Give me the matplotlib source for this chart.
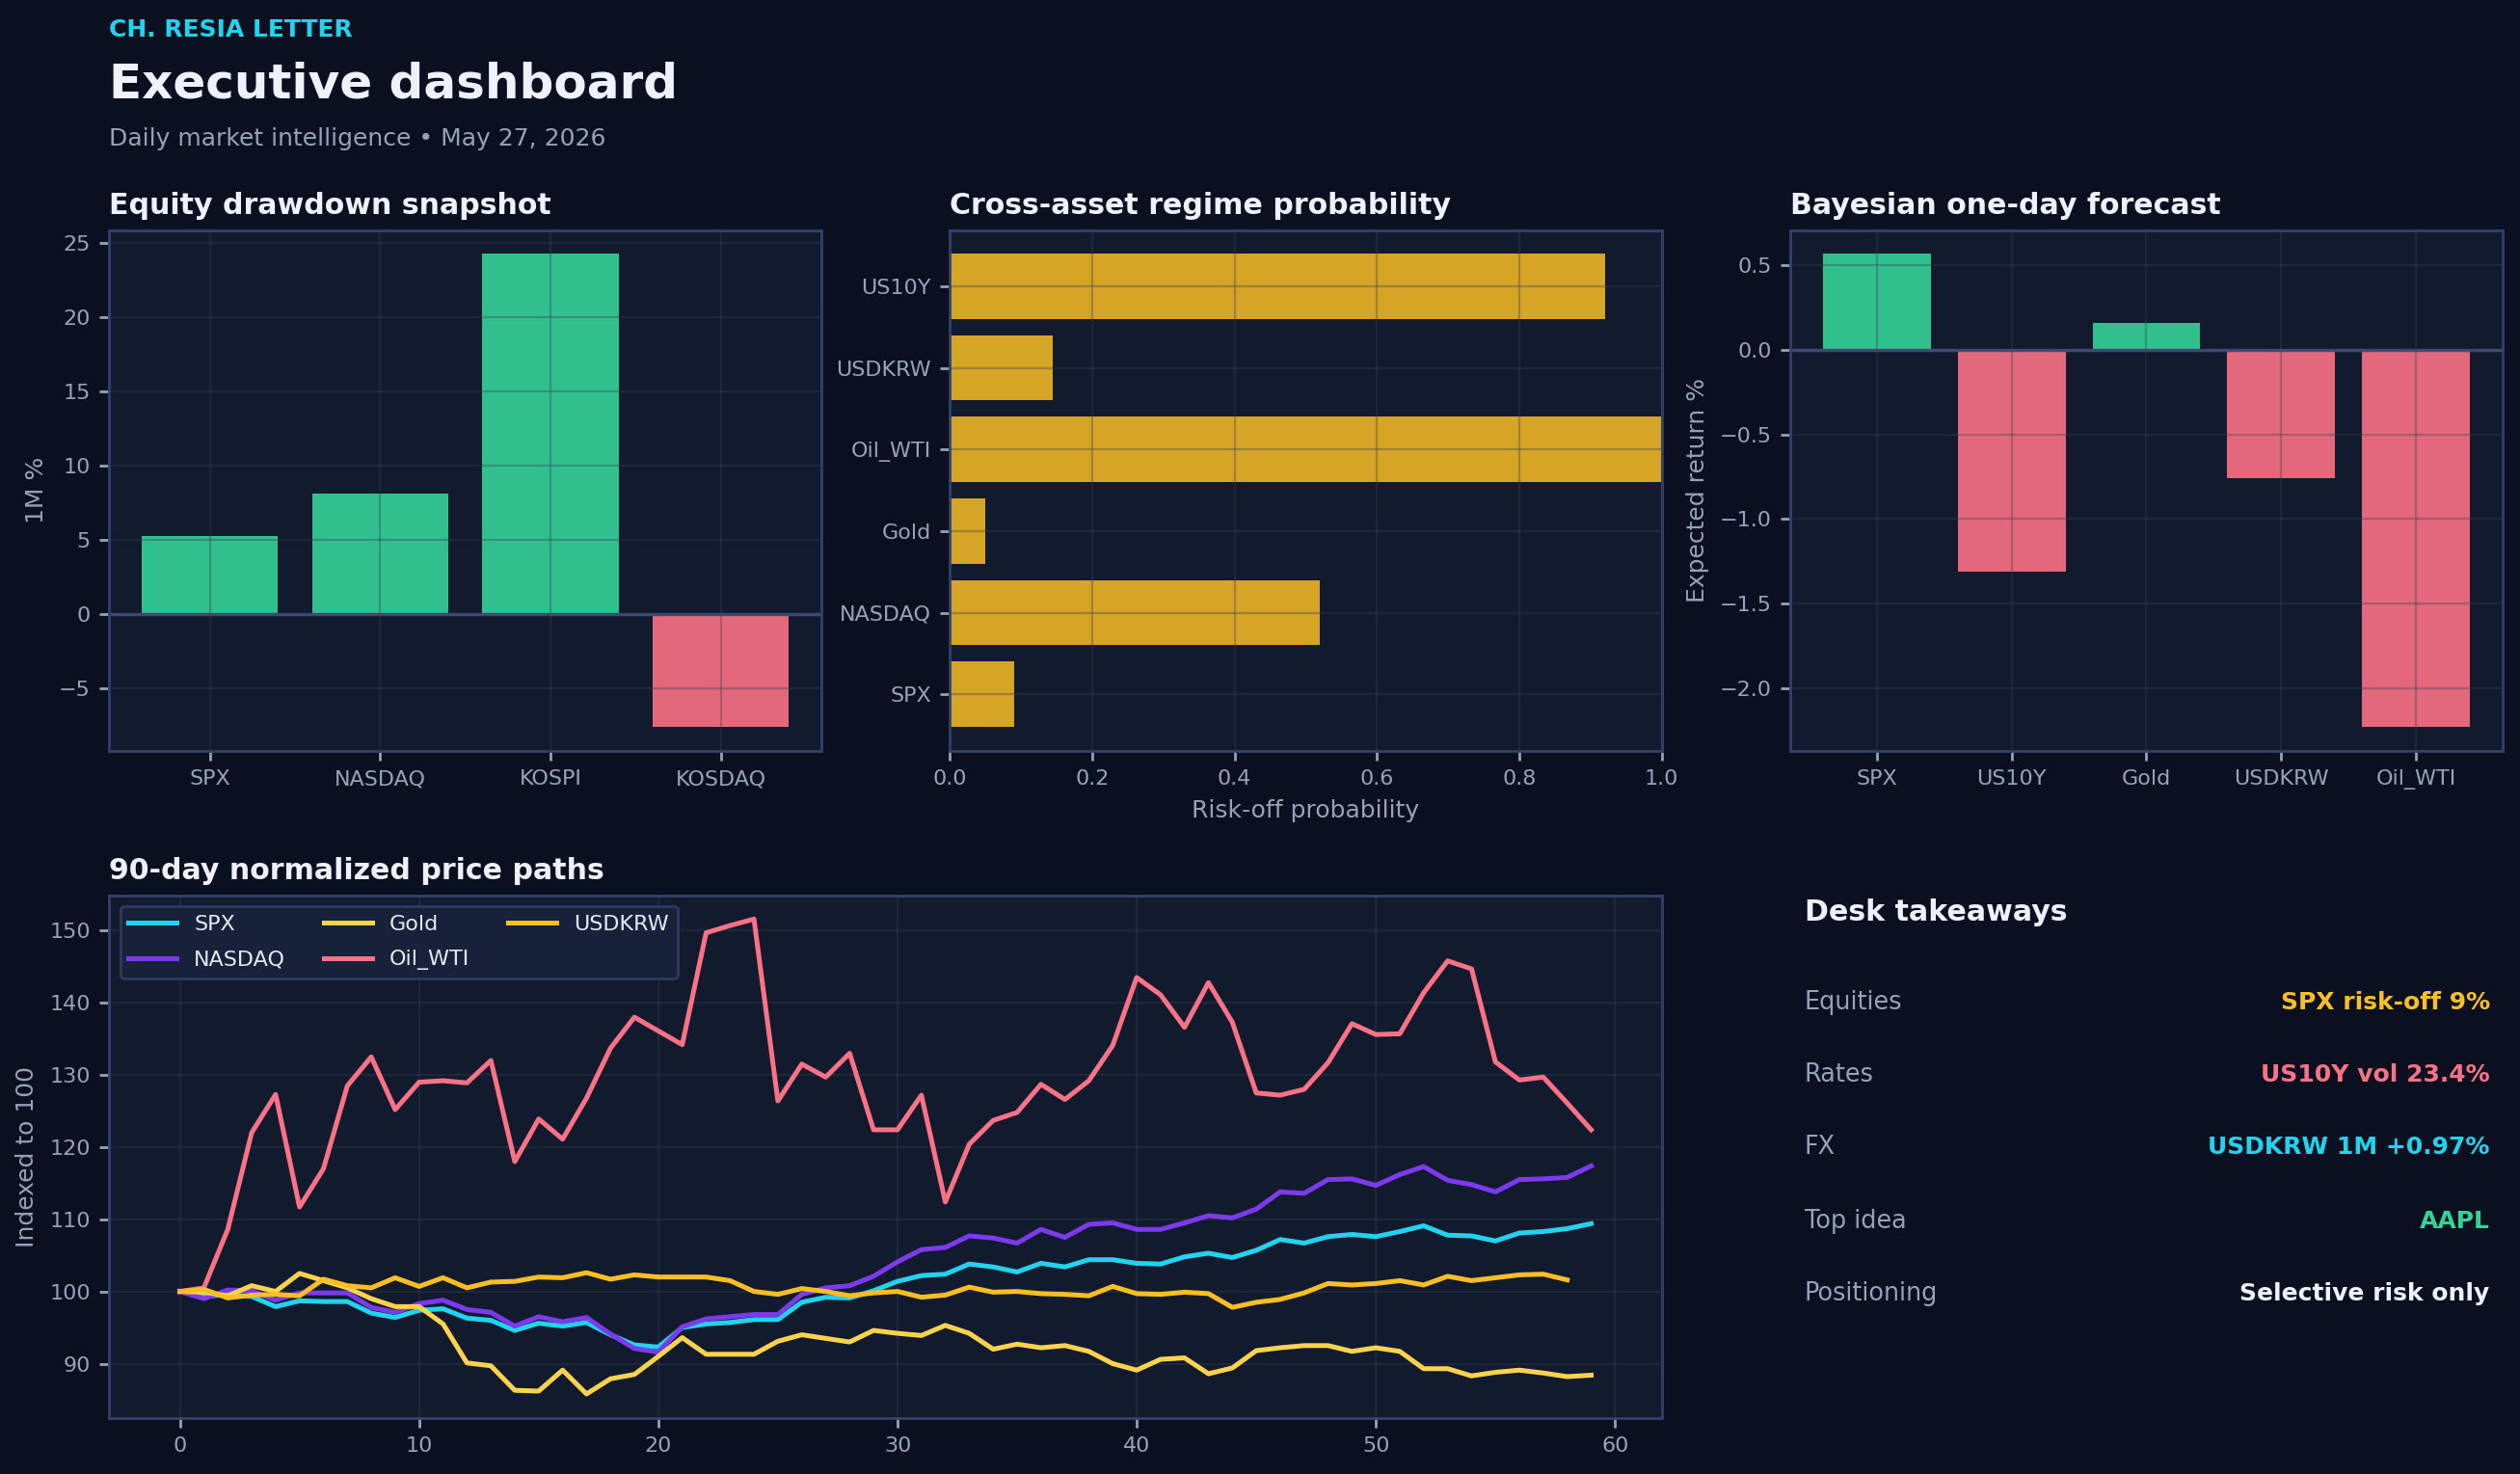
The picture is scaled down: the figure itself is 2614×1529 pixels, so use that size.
import matplotlib
matplotlib.use("Agg")
import matplotlib.pyplot as plt
import numpy as np

# ---------------- data ----------------
eq_names = ["SPX", "NASDAQ", "KOSPI", "KOSDAQ"]
eq_values = [5.3, 8.1, 24.3, -7.6]

regime_names = ["SPX", "NASDAQ", "Gold", "Oil_WTI", "USDKRW", "US10Y"]
regime_probs = [0.09, 0.52, 0.05, 1.0, 0.145, 0.92]

fc_names = ["SPX", "US10Y", "Gold", "USDKRW", "Oil_WTI"]
fc_values = [0.57, -1.31, 0.16, -0.76, -2.23]

spx = [100, 99.3, 99.6, 99.3, 97.9, 98.7, 98.6, 98.6, 97.0, 96.4,
       97.4, 97.6, 96.3, 96.0, 94.6, 95.6, 95.2, 95.7, 94.0, 92.6,
       92.3, 95.0, 95.5, 95.7, 96.1, 96.1, 98.5, 99.2, 99.1, 100.1,
       101.4, 102.2, 102.4, 103.8, 103.4, 102.7, 103.9, 103.4, 104.4, 104.4,
       103.9, 103.8, 104.8, 105.3, 104.7, 105.7, 107.2, 106.7, 107.6, 107.9,
       107.6, 108.3, 109.1, 107.8, 107.7, 107.0, 108.1, 108.3, 108.7, 109.4]
nasdaq = [100, 99.0, 100.2, 100.1, 98.8, 99.8, 99.8, 99.8, 97.8, 97.1,
          98.3, 98.8, 97.5, 97.1, 95.2, 96.5, 95.8, 96.4, 94.1, 92.1,
          91.6, 95.1, 96.2, 96.5, 96.8, 96.8, 99.6, 100.5, 100.8, 102.1,
          104.1, 105.8, 106.1, 107.7, 107.4, 106.7, 108.6, 107.5, 109.3, 109.5,
          108.6, 108.6, 109.5, 110.5, 110.2, 111.4, 113.8, 113.6, 115.5, 115.6,
          114.7, 116.2, 117.3, 115.4, 114.8, 113.8, 115.5, 115.6, 115.8, 117.4]
gold = [100, 99.9, 99.4, 100.8, 100.0, 102.5, 101.5, 100.5, 99.0, 97.9,
        97.9, 95.5, 90.1, 89.7, 86.3, 86.2, 89.1, 85.8, 87.9, 88.5,
        91.0, 93.6, 91.3, 91.3, 91.3, 93.1, 94.0, 93.5, 93.0, 94.6,
        94.2, 93.9, 95.3, 94.2, 92.0, 92.7, 92.2, 92.5, 91.7, 90.0,
        89.1, 90.6, 90.8, 88.6, 89.4, 91.8, 92.2, 92.5, 92.5, 91.7,
        92.2, 91.7, 89.3, 89.3, 88.3, 88.8, 89.1, 88.7, 88.2, 88.4]
oil = [100, 100.5, 108.6, 122.0, 127.3, 111.7, 117.0, 128.5, 132.5, 125.2,
       129.0, 129.2, 128.9, 132.0, 118.0, 123.9, 121.1, 126.8, 133.7, 138.0,
       136.1, 134.2, 149.7, 150.7, 151.6, 126.4, 131.5, 129.7, 133.0, 122.4,
       122.4, 127.2, 112.4, 120.4, 123.7, 124.8, 128.7, 126.6, 129.2, 134.1,
       143.5, 141.1, 136.6, 142.8, 137.3, 127.5, 127.2, 128.0, 131.7, 137.1,
       135.6, 135.7, 141.4, 145.8, 144.7, 131.8, 129.3, 129.7, 126.1, 122.4]
usdkrw = [100, 100.3, 99.1, 99.5, 99.6, 99.4, 101.7, 100.8, 100.5, 101.9,
          100.7, 101.9, 100.5, 101.3, 101.4, 102.0, 101.9, 102.6, 101.7, 102.3,
          102.0, 102.0, 102.0, 101.5, 100.0, 99.6, 100.4, 100.0, 99.4, 99.8,
          100.0, 99.2, 99.5, 100.6, 99.9, 100.0, 99.7, 99.6, 99.4, 100.7,
          99.7, 99.6, 99.9, 99.7, 97.8, 98.5, 98.9, 99.8, 101.1, 100.9,
          101.1, 101.5, 100.9, 102.1, 101.5, 101.9, 102.3, 102.4, 101.6]

takeaway_labels = ["Equities", "Rates", "FX", "Top idea", "Positioning"]
takeaway_values = ["SPX risk-off 9%", "US10Y vol 23.4%", "USDKRW 1M +0.97%", "AAPL", "Selective risk only"]

# ---------------- style ----------------
BG = "#0b1020"
AX_BG = "#121a2e"
SPINE = "#33416a"
GRID = "#334155"
MUTED = "#94a3b8"
WHITE = "#eef2ff"
GREEN = "#34d399"
RED = "#fb7185"
AMBER = "#fbbf24"
CYAN = "#22d3ee"
PURPLE = "#7c3aed"
GOLDC = "#fcd34d"

plt.rcParams.update({
    "font.family": ["DejaVu Sans"],
    "axes.edgecolor": SPINE,
    "axes.linewidth": 1.0,
    "xtick.color": MUTED,
    "ytick.color": MUTED,
    "xtick.labelcolor": MUTED,
    "ytick.labelcolor": MUTED,
    "xtick.labelsize": 8,
    "ytick.labelsize": 8,
    "axes.labelcolor": MUTED,
    "axes.labelsize": 9,
})

fig = plt.figure(figsize=(13.07, 7.645), dpi=200, facecolor=BG)

def style_ax(ax):
    ax.set_facecolor(AX_BG)
    for s in ax.spines.values():
        s.set_color(SPINE)
        s.set_linewidth(1.0)
    ax.grid(True, color=GRID, alpha=0.35, linewidth=0.8)
    ax.tick_params(length=3.5, width=1, color=MUTED)

def panel_title(ax, txt):
    ax.set_title(txt, loc="left", fontsize=10.8, fontweight="bold", color=WHITE, pad=6)

# header
fig.text(0.0434, 0.980, "CH. RESIA LETTER", color=CYAN, fontsize=9.0, fontweight="bold", va="center", ha="left")
fig.text(0.0434, 0.943, "Executive dashboard", color=WHITE, fontsize=18, fontweight="bold", va="center", ha="left")
fig.text(0.0434, 0.906, "Daily market intelligence \u2022 May 27, 2026", color=MUTED, fontsize=9.0, va="center", ha="left")

# --- equity drawdown ---
ax1 = fig.add_axes([0.0434, 0.4907, 0.2825, 0.3533])
style_ax(ax1)
cols = [GREEN if v >= 0 else RED for v in eq_values]
ax1.bar(eq_names, eq_values, color=cols, alpha=0.9, width=0.8)
ax1.axhline(0, color="#3b4a6e", linewidth=1.2)
ax1.set_ylabel("1M %")
panel_title(ax1, "Equity drawdown snapshot")

# --- regime probability ---
ax2 = fig.add_axes([0.3769, 0.4907, 0.2825, 0.3533])
style_ax(ax2)
ax2.barh(regime_names, regime_probs, color=AMBER, alpha=0.85, height=0.8)
ax2.set_xlim(0, 1.0)
ax2.set_xlabel("Risk-off probability")
panel_title(ax2, "Cross-asset regime probability")

# --- forecast ---
ax3 = fig.add_axes([0.7105, 0.4907, 0.2825, 0.3533])
style_ax(ax3)
cols3 = [GREEN if v >= 0 else RED for v in fc_values]
ax3.bar(fc_names, fc_values, color=cols3, alpha=0.9, width=0.8)
ax3.axhline(0, color="#3b4a6e", linewidth=1.2)
ax3.set_ylabel("Expected return %")
panel_title(ax3, "Bayesian one-day forecast")

# --- price paths ---
ax4 = fig.add_axes([0.0434, 0.0382, 0.616, 0.3544])
style_ax(ax4)
series = [("SPX", spx, CYAN), ("NASDAQ", nasdaq, PURPLE), ("Gold", gold, GOLDC),
          ("Oil_WTI", oil, RED), ("USDKRW", usdkrw, AMBER)]
for name, vals, c in series:
    ax4.plot(np.arange(len(vals)), vals, color=c, linewidth=1.8, label=name)
ax4.set_xticks([0, 10, 20, 30, 40, 50, 60])
ax4.set_yticks([90, 100, 110, 120, 130, 140, 150])
ax4.set_ylabel("Indexed to 100")
leg = ax4.legend(loc="upper left", ncol=3, fontsize=8, frameon=True,
                 facecolor="#18213a", edgecolor="#2d3a5c", framealpha=1.0,
                 labelcolor="#e2e8f0", handlelength=2.25, columnspacing=1.8,
                 labelspacing=0.75)
panel_title(ax4, "90-day normalized price paths")

# --- takeaways ---
fig.text(0.716, 0.381, "Desk takeaways", color=WHITE, fontsize=10.8, fontweight="bold", va="center", ha="left")
row_y = [0.3195, 0.2705, 0.2214, 0.1712, 0.1221]
val_cols = [AMBER, RED, CYAN, GREEN, WHITE]
for lab, val, y, c in zip(takeaway_labels, takeaway_values, row_y, val_cols):
    fig.text(0.716, y, lab, color=MUTED, fontsize=9.2, va="center", ha="left")
    fig.text(0.988, y, val, color=c, fontsize=9.0, fontweight="bold", va="center", ha="right")

fig.savefig("out.png", dpi=200, facecolor=BG)
